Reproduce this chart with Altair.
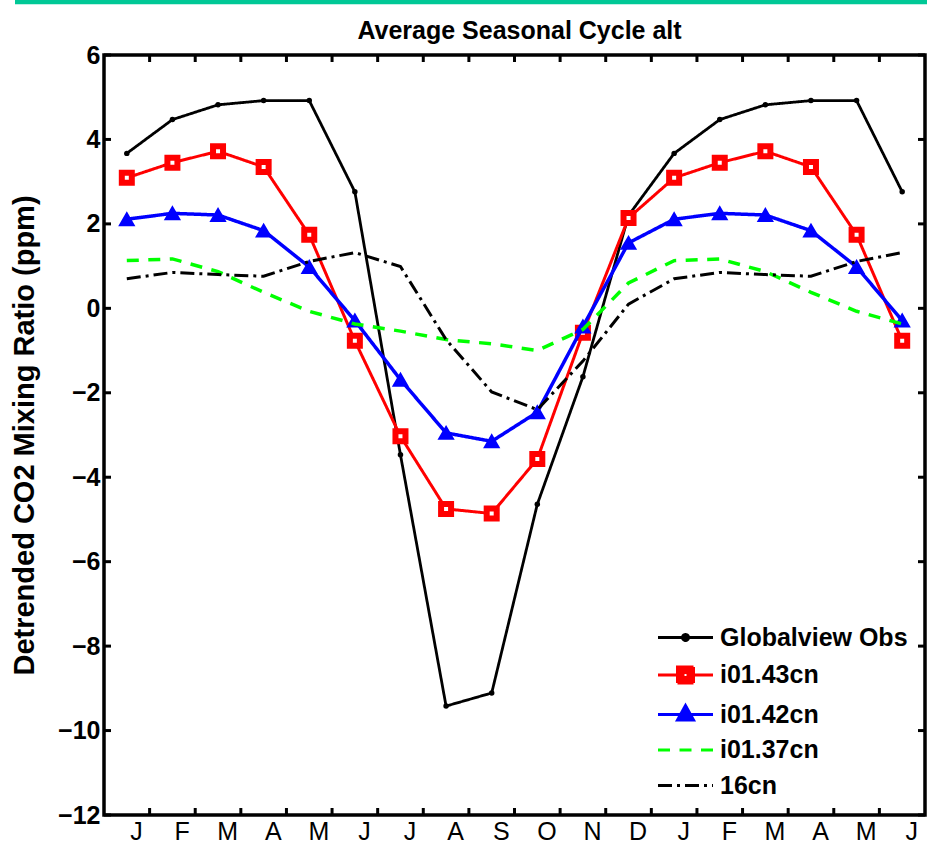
import altair as alt
import pandas as pd

# ---------------- data ----------------
months = ["J", "F", "M", "A", "M", "J", "J", "A", "S", "O", "N", "D",
          "J", "F", "M", "A", "M", "J"]
series_names = ["Globalview Obs", "i01.43cn", "i01.42cn", "i01.37cn", "16cn"]

globalview = [3.67, 4.47, 4.82, 4.92, 4.92, 2.76, -3.47, -9.42, -9.11, -4.64, -1.62, 2.20,
              3.67, 4.47, 4.82, 4.92, 4.92, 2.76]
i0143 = [3.09, 3.45, 3.72, 3.35, 1.74, -0.77, -3.03, -4.75, -4.86, -3.57, -0.58, 2.14,
         3.09, 3.45, 3.72, 3.35, 1.74, -0.77]
i0142 = [2.11, 2.25, 2.21, 1.84, 0.98, -0.29, -1.69, -2.95, -3.15, -2.46, -0.43, 1.55,
         2.11, 2.25, 2.21, 1.84, 0.98, -0.29]
i0137 = [1.13, 1.17, 0.87, 0.38, -0.07, -0.37, -0.54, -0.74, -0.84, -1.00, -0.50, 0.60,
         1.13, 1.17, 0.87, 0.38, -0.07, -0.37]
cn16 = [0.70, 0.85, 0.80, 0.76, 1.11, 1.32, 0.99, -0.74, -1.98, -2.40, -1.25, 0.10,
        0.70, 0.85, 0.80, 0.76, 1.11, 1.32]

series_values = [globalview, i0143, i0142, i0137, cn16]
colors = ["#000000", "#ff0000", "#0000ff", "#00ff00", "#000000"]
line_widths = [2.8, 3, 3.5, 3.5, 3]
dashes = [[1, 0], [1, 0], [1, 0], [12, 9.5], [14, 5, 3, 5]]

x_index = list(range(len(months)))
label_pos = [i + 0.2 for i in x_index]
xtick_pos = [i + 0.5 for i in range(len(months) - 1)]
ytick_vals = list(range(-12, 7, 2))

FONT = "Liberation Sans"
W, H = 821, 760

# ---------------- scales / axes ----------------
xscale = alt.Scale(domain=[-0.5, 17.5], nice=False, zero=False)
yscale = alt.Scale(domain=[-12, 6], nice=False, zero=False)

label_expr = "[" + ",".join("'%s'" % m for m in months) + "][round(datum.value - 0.2)]"
xaxis = alt.Axis(values=label_pos, labelExpr=label_expr, title=None, grid=False,
                 ticks=False, domain=False, labelFontSize=25, labelFont=FONT,
                 labelColor="black", labelPadding=4, labelFlush=False,
                 labelOverlap=False)
yaxis = alt.Axis(values=ytick_vals, title="Detrended CO2 Mixing Ratio (ppm)", grid=False,
                 ticks=False, domain=False, labelFontSize=25, labelFont=FONT,
                 labelFontWeight="bold", labelColor="black", labelPadding=4,
                 labelFlush=False, labelOverlap=False, titleFont=FONT,
                 titleFontSize=29, titleFontWeight="bold", titleColor="black",
                 titlePadding=18)

X = alt.X("x:Q", scale=xscale, axis=xaxis)
Y = alt.Y("y:Q", scale=yscale, axis=yaxis)

layers = []

# top decorative bar
layers.append(alt.Chart(pd.DataFrame({"x": [0]})).mark_rule(
    color="#00c896", strokeWidth=4.5).encode(
    x=alt.value(-89), x2=alt.value(W + 2), y=alt.value(-53)))

# series lines and markers
marker_specs = [
    dict(shape="circle", size=30, filled=True, strokeWidth=0),
    dict(shape="square", size=100, filled=False, fill="white", strokeWidth=6),
    dict(shape="triangle-up", size=190, filled=True, strokeWidth=2),
    None,
    None,
]
for name, vals, col, lw, dash, mk in zip(series_names, series_values, colors,
                                          line_widths, dashes, marker_specs):
    df = pd.DataFrame({"x": x_index, "y": vals})
    base = alt.Chart(df)
    layers.append(base.mark_line(color=col, strokeWidth=lw, strokeDash=dash).encode(x=X, y=Y))
    if mk is not None:
        kw = dict(shape=mk["shape"], size=mk["size"], filled=mk["filled"],
                  color=col, stroke=col, strokeWidth=mk["strokeWidth"], opacity=1)
        if "fill" in mk:
            kw["fill"] = mk["fill"]
        layers.append(base.mark_point(**kw).encode(x=X, y=Y))

# inward ticks
xt = alt.Chart(pd.DataFrame({"x": xtick_pos}))
yt = alt.Chart(pd.DataFrame({"y": ytick_vals}))
layers.append(xt.mark_rule(color="black", strokeWidth=3).encode(
    x=X, y=alt.value(H), y2=alt.value(H - 7)))
layers.append(xt.mark_rule(color="black", strokeWidth=3).encode(
    x=X, y=alt.value(0), y2=alt.value(7)))
layers.append(yt.mark_rule(color="black", strokeWidth=3).encode(
    y=Y, x=alt.value(0), x2=alt.value(7)))
layers.append(yt.mark_rule(color="black", strokeWidth=3).encode(
    y=Y, x=alt.value(W), x2=alt.value(W - 7)))

# legend (symbols = line + marker paths; unit = 10 px at symbolSize 400)
legend_paths = [
    "M-2.75,0H2.75M-0.3,0A0.3,0.3 0 1,0 0.3,0A0.3,0.3 0 1,0 -0.3,0Z",
    "M-2.75,0H-0.8M0.8,0H2.75M-0.8,-0.8H0.8V0.8H-0.8ZM-0.25,-0.25V0.25H0.25V-0.25Z",
    "M-2.75,0H2.75M0,-0.9L0.8,0.55L-0.8,0.55Z",
    "M-2.75,0H2.75",
    "M-2.75,0H2.75",
]
leg = alt.Legend(title=None, orient="none", legendX=569, legendY=570,
                 labelFontSize=25, labelFont=FONT, labelFontWeight="bold",
                 labelColor="black", symbolSize=400, symbolStrokeWidth=3,
                 rowPadding=9.5, labelOffset=22, padding=0, labelLimit=0,
                 symbolOpacity=1)
legend_df = pd.DataFrame({"series": series_names})
layers.append(alt.Chart(legend_df).mark_point(filled=True, opacity=1, strokeWidth=3).encode(
    shape=alt.Shape("series:N", scale=alt.Scale(domain=series_names, range=legend_paths), legend=leg),
    fill=alt.Fill("series:N", scale=alt.Scale(domain=series_names, range=colors), legend=leg),
    stroke=alt.Stroke("series:N", scale=alt.Scale(domain=series_names, range=colors), legend=leg),
    strokeDash=alt.StrokeDash("series:N", scale=alt.Scale(domain=series_names, range=dashes), legend=leg),
).transform_filter("false"))

chart = alt.layer(*layers).properties(
    width=W, height=H,
    title=alt.TitleParams("Average Seasonal Cycle alt", font=FONT, fontSize=25,
                          fontWeight="bold", color="black", anchor="middle",
                          frame="group", baseline="alphabetic", offset=-64, dx=5),
    autosize=alt.AutoSizeParams(type="none"),
    padding={"left": 104, "top": 55, "right": 2, "bottom": 35},
    background="white",
).configure_view(stroke="black", strokeWidth=3.5)

chart.save("out.html", embed_options={"renderer": "svg", "actions": False})
